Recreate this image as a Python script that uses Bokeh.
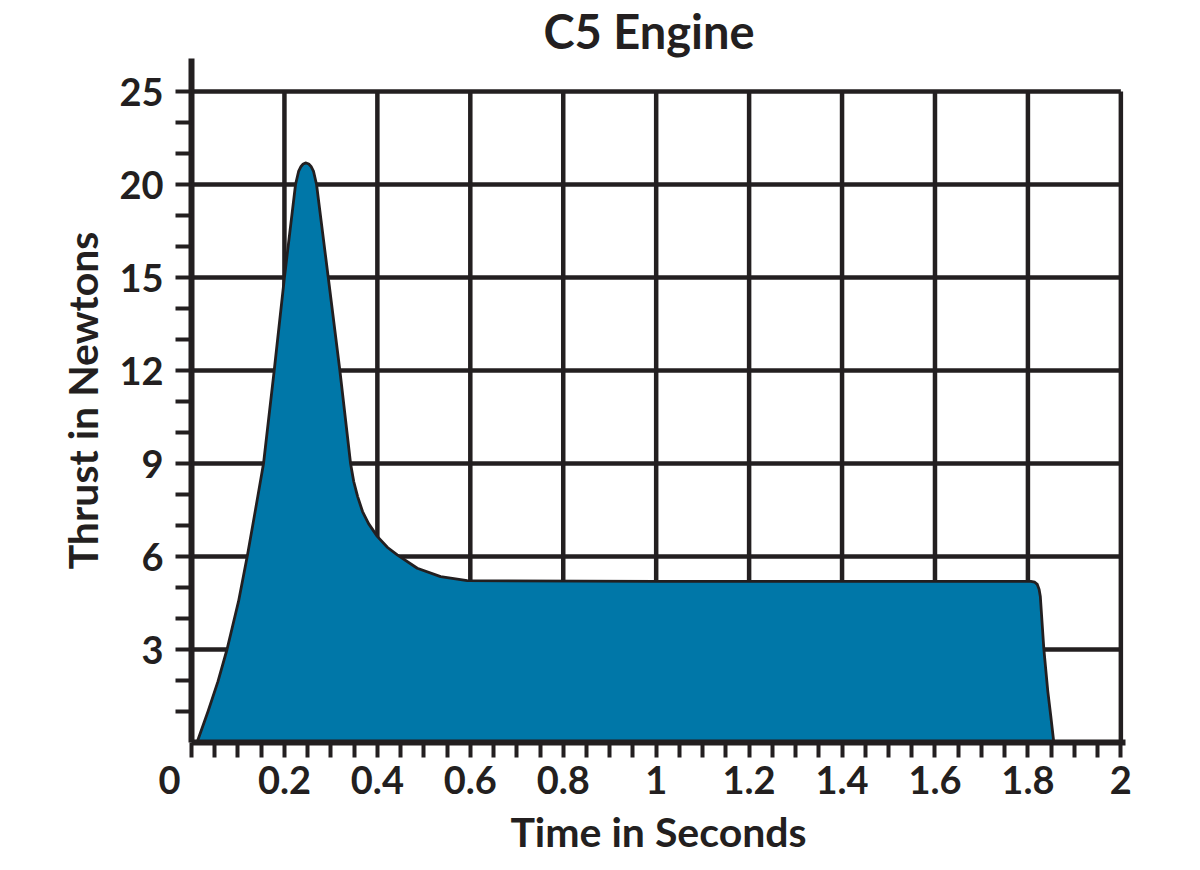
import numpy as np
from bokeh.plotting import figure
from bokeh.models import FixedTicker, Range1d
from bokeh.embed import file_html
from bokeh.resources import INLINE

# ---- data ----
time_s = [0.0118, 0.0355, 0.0570, 0.0764, 0.1012, 0.1206, 0.1378, 0.1550, 0.1780, 0.2000,
          0.2239, 0.2304, 0.2357, 0.2403, 0.2465, 0.2524, 0.2573, 0.2627, 0.2691, 0.2943,
          0.3193, 0.3423, 0.3491, 0.3574, 0.3681, 0.3811, 0.3998, 0.4220, 0.4428, 0.4859,
          0.5361, 0.5935, 1.0000, 1.4000, 1.8062, 1.8148, 1.8202, 1.8241, 1.8267, 1.8342,
          1.8428, 1.8493, 1.8557]
thrust_n = [0.0, 1.0, 1.97, 3.0, 4.55, 6.06, 7.52, 9.0, 12.0, 15.0,
            20.0, 20.70, 20.97, 21.10, 21.16, 21.10, 20.97, 20.70, 20.0, 15.0,
            12.0, 9.0, 8.42, 7.94, 7.45, 7.06, 6.65, 6.29, 6.05, 5.62,
            5.35, 5.22, 5.2, 5.2, 5.2, 5.17, 5.10, 4.94, 4.71, 3.03,
            1.65, 0.84, 0.0]

x_ticks = [0, 0.2, 0.4, 0.6, 0.8, 1, 1.2, 1.4, 1.6, 1.8, 2]
x_tick_labels = ["0", "0.2", "0.4", "0.6", "0.8", "1", "1.2", "1.4", "1.6", "1.8", "2"]
y_tick_values = [0, 3, 6, 9, 12, 15, 20, 25]   # labelled thrust values, equally spaced on the chart
y_tick_labels = ["", "3", "6", "9", "12", "15", "20", "25"]

title_text = "C5 Engine"
x_label = "Time in Seconds"
y_label = "Thrust in Newtons"

# ---- styling ----
DARK = "#231f20"
FILL = "#0077a8"
FONT = "Lato"
FIGSP = "\u2007"   # figure space: pushes the "0" label left of its tick as in the original

# the chart's y axis is evenly spaced between labelled values
y_pos = list(range(len(y_tick_values)))
thrust_pos = np.interp(thrust_n, y_tick_values, y_pos)

y_top = 7 + 33 / 93.0
p = figure(frame_width=934, frame_height=684, output_backend="svg", toolbar_location=None,
           x_range=Range1d(0, 2.01), y_range=Range1d(0, y_top),
           min_border_left=191, min_border_right=67,
           min_border_top=57, min_border_bottom=0,
           background_fill_color="white", border_fill_color="white")
p.outline_line_color = None
p.xgrid.visible = False
p.ygrid.visible = False

# title
p.title.text = title_text
p.title.text_font = FONT
p.title.text_font_style = "bold"
p.title.text_font_size = "47px"
p.title.text_color = DARK
p.title.align = "left"
p.title.offset = 352
p.title.standoff = 0

# grid lines (under the fill)
p.segment(x0=x_ticks, y0=[0] * len(x_ticks), x1=x_ticks, y1=[y_pos[-1]] * len(x_ticks),
          line_color=DARK, line_width=4.5)
p.segment(x0=[0] * (len(y_pos) - 1), y0=y_pos[1:], x1=[x_ticks[-1]] * (len(y_pos) - 1), y1=y_pos[1:],
          line_color=DARK, line_width=4.5)

# thrust curve
p.patch(list(time_s), list(thrust_pos), fill_color=FILL, line_color=DARK,
        line_width=2.8, line_join="round")

# axes
minor_x = [round(i * 0.05, 2) for i in range(41) if i % 4 != 0]
p.xaxis.ticker = FixedTicker(ticks=x_ticks, minor_ticks=minor_x)
x_over = {t: lab for t, lab in zip(x_ticks, x_tick_labels)}
x_over[0] = x_tick_labels[0] + FIGSP + FIGSP
p.xaxis.major_label_overrides = x_over
minor_y = [k / 3.0 for k in range(1, 22) if k % 3 != 0]
p.yaxis.ticker = FixedTicker(ticks=y_pos[1:], minor_ticks=minor_y)
p.yaxis.major_label_overrides = {pos: lab for pos, lab in zip(y_pos, y_tick_labels)}

for ax in (p.xaxis[0], p.yaxis[0]):
    ax.axis_line_color = DARK
    ax.axis_line_width = 6
    ax.major_tick_line_color = DARK
    ax.major_tick_line_width = 4
    ax.minor_tick_line_color = DARK
    ax.minor_tick_line_width = 4
    ax.major_tick_in = 0
    ax.minor_tick_in = 0
    ax.major_label_text_font = FONT
    ax.major_label_text_font_style = "bold"
    ax.major_label_text_font_size = "38px"
    ax.major_label_text_color = DARK
    ax.axis_label_text_font = FONT
    ax.axis_label_text_font_style = "bold"
    ax.axis_label_text_font_size = "41px"
    ax.axis_label_text_color = DARK

p.xaxis.major_tick_out = 15
p.xaxis.minor_tick_out = 15
p.xaxis.major_label_standoff = -2
p.xaxis.axis_label = x_label
p.xaxis.axis_label_standoff = 2
p.yaxis.major_tick_out = 16
p.yaxis.minor_tick_out = 16
p.yaxis.major_label_standoff = 12
p.yaxis.axis_label = y_label
p.yaxis.axis_label_standoff = 9

open("out.html", "w").write(file_html(p, INLINE))
